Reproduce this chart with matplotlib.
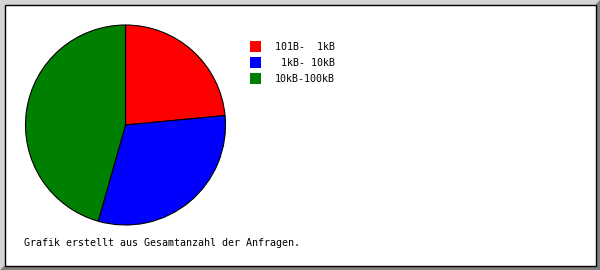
import matplotlib.pyplot as plt
from matplotlib.patches import Rectangle, Polygon

# share of requests per size class
labels = ["101B-  1kB", " 1kB- 10kB", "10kB-100kB"]
shares = [23.5, 30.9, 45.6]
colors = ["#ff0000", "#0000ff", "#008000"]
footer = "Grafik erstellt aus Gesamtanzahl der Anfragen."

W, H = 600, 270
fig = plt.figure(figsize=(W / 100, H / 100), dpi=100)
fig.patch.set_facecolor("#d4d4d4")

# beveled frame (pixel coords, y down)
def px(x, y):
    return (x / W, 1 - y / H)

fig.patches.append(Polygon([px(600, 0), px(600, 270), px(0, 270), px(4, 266), px(596, 266), px(596, 4)],
                           closed=True, transform=fig.transFigure, facecolor="#808080",
                           edgecolor="none", zorder=-2))
fig.patches.append(Rectangle(px(4.5, 265.5), 591 / W, 261 / H, transform=fig.transFigure,
                             facecolor="white", edgecolor="black", linewidth=1, zorder=-1))

# pie
ax = fig.add_axes([24.5 / W, (H - 226) / H, 202 / W, 202 / H])
ax.patch.set_visible(False)
ax.pie(shares, colors=colors, startangle=90, counterclock=False,
       wedgeprops=dict(edgecolor="black", linewidth=0.8), radius=1)
ax.set_xlim(-1.01, 1.01)
ax.set_ylim(-1.01, 1.01)
ax.axis("off")

# legend
font = dict(family="DejaVu Sans Mono", fontsize=7.2)
for i, (lab, c) in enumerate(zip(labels, colors)):
    yc = 46.5 + 16 * i
    fig.patches.append(Rectangle(px(250, yc + 5.5), 11 / W, 11 / H, transform=fig.transFigure,
                                 facecolor=c, edgecolor="none"))
    fig.text(275 / W, 1 - yc / H, lab, ha="left", va="center", **font)

fig.text(24 / W, 1 - 243.5 / H, footer, ha="left", va="center", **font)

fig.savefig("out.png", dpi=100)
